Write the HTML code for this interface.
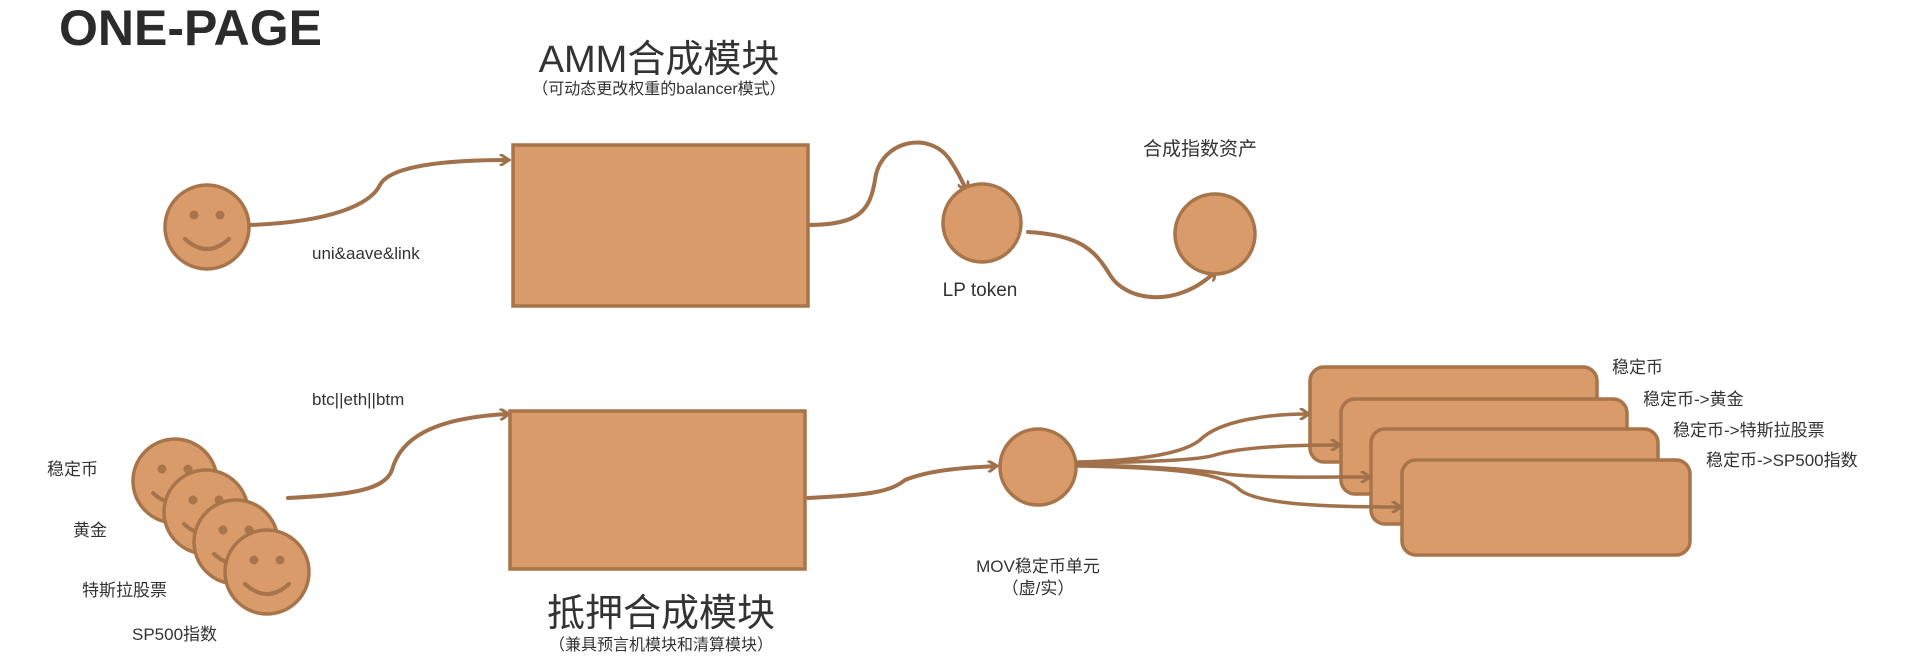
<!DOCTYPE html>
<html><head><meta charset="utf-8"><style>
html,body{margin:0;padding:0;background:#fff}
svg{display:block}
text{font-family:"Liberation Sans","Noto Sans CJK SC",sans-serif;fill:#333}
</style></head><body>
<svg width="1920" height="665" viewBox="0 0 1920 665" xmlns="http://www.w3.org/2000/svg">
<defs>
<marker id="a" markerWidth="12" markerHeight="12" refX="9" refY="6" orient="auto" markerUnits="userSpaceOnUse">
<path d="M1,0 L10,6 L1,12" fill="none" stroke="#A0714A" stroke-width="3"/>
</marker>
<g id="s">
<circle cx="0" cy="0" r="42" fill="#D99B6A" stroke="#A87449" stroke-width="3.5"/>
<circle cx="-13" cy="-12" r="4.5" fill="#A87449"/>
<circle cx="13" cy="-12" r="4.5" fill="#A87449"/>
<path d="M-22,12 Q0,32 22,12" fill="none" stroke="#A87449" stroke-width="4" stroke-linecap="round"/>
</g>
</defs>
<g fill="none" stroke="#A0714A" stroke-width="4" stroke-linecap="round">
<path d="M250,225 C330,222 370,205 380,185 C390,165 450,160 508,160" marker-end="url(#a)"/>
<path d="M808,225 C860,225 870,210 875,180 C880,140 930,130 950,160 C960,175 964,185 966,190" marker-end="url(#a)"/>
<path d="M1028,232 C1080,235 1095,250 1110,275 C1125,300 1175,310 1215,272" marker-end="url(#a)"/>
<path d="M288,498 C350,495 385,490 392,470 C400,440 430,418 508,414" marker-end="url(#a)"/>
<path d="M808,498 C870,495 890,492 905,480 C930,470 960,468 996,466" marker-end="url(#a)"/>
</g>
<g fill="#D99B6A" stroke="#A87449" stroke-width="3.5">
<rect x="513" y="145" width="295" height="161"/>
<rect x="510" y="411" width="295" height="158"/>
<circle cx="982" cy="223" r="39"/>
<circle cx="1215" cy="234" r="40"/>
<circle cx="1038" cy="467" r="38"/>
<rect x="1310" y="367" width="287" height="95" rx="14"/>
<rect x="1341" y="399" width="286" height="95" rx="14"/>
<rect x="1371" y="429" width="287" height="95" rx="14"/>
<rect x="1402" y="460" width="288" height="95" rx="14"/>
</g>
<g fill="none" stroke="#A0714A" stroke-width="3.5" stroke-linecap="round">
<path d="M1078,462 C1150,460 1185,452 1200,440 C1220,420 1270,414 1308,414" marker-end="url(#a)"/>
<path d="M1078,463 C1150,462 1200,460 1215,455 C1240,447 1290,445 1339,445" marker-end="url(#a)"/>
<path d="M1078,465 C1150,466 1200,470 1225,474 C1260,478 1320,477 1369,477" marker-end="url(#a)"/>
<path d="M1078,466 C1190,468 1225,475 1240,490 C1260,505 1330,507 1400,507" marker-end="url(#a)"/>
</g>
<use href="#s" x="207" y="227"/>
<use href="#s" x="175" y="481"/>
<use href="#s" x="206" y="512"/>
<use href="#s" x="236" y="542"/>
<use href="#s" x="267" y="572"/>
<text x="59" y="45" font-size="50" font-weight="bold" style="fill:#2b2b2b">ONE-PAGE</text>
<text x="659" y="72" font-size="38" text-anchor="middle">AMM合成模块</text>
<text x="659" y="94" font-size="16" text-anchor="middle">（可动态更改权重的balancer模式）</text>
<text x="312" y="259" font-size="17">uni&amp;aave&amp;link</text>
<text x="980" y="296" font-size="19" text-anchor="middle">LP token</text>
<text x="1200" y="155" font-size="19" text-anchor="middle">合成指数资产</text>
<text x="312" y="405" font-size="17">btc||eth||btm</text>
<text x="661" y="626" font-size="38" text-anchor="middle">抵押合成模块</text>
<text x="661" y="650" font-size="16" text-anchor="middle">（兼具预言机模块和清算模块）</text>
<text x="47" y="475" font-size="17">稳定币</text>
<text x="73" y="536" font-size="17">黄金</text>
<text x="82" y="596" font-size="17">特斯拉股票</text>
<text x="132" y="640" font-size="17">SP500指数</text>
<text x="1038" y="572" font-size="17" text-anchor="middle">MOV稳定币单元</text>
<text x="1038" y="594" font-size="17" text-anchor="middle">（虚/实）</text>
<text x="1612" y="373" font-size="17">稳定币</text>
<text x="1643" y="405" font-size="17">稳定币-&gt;黄金</text>
<text x="1673" y="436" font-size="17">稳定币-&gt;特斯拉股票</text>
<text x="1706" y="466" font-size="17">稳定币-&gt;SP500指数</text>
</svg>
</body></html>
